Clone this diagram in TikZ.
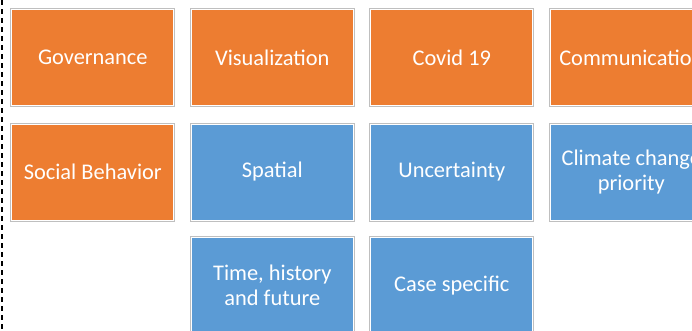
\documentclass[tikz,border=0pt]{standalone}
\usepackage{fontspec}
\setmainfont{Carlito}
\usepackage{tikz}
\usepackage{xcolor}
\definecolor{themeorange}{HTML}{ED7D31}
\definecolor{themeblue}{HTML}{5B9BD5}
\definecolor{edgegray}{HTML}{BFBFBF}

\begin{document}
\begin{tikzpicture}[x=1pt, y=-1pt,
		tile/.style = {rectangle, minimum width=162pt, minimum height=96pt, inner sep=0pt,
			draw=white, line width=1pt, preaction={draw=edgegray, line width=3pt},
			text=white, align=center, font=\fontsize{22.4}{25}\selectfont},
		orangetile/.style = {tile, fill=themeorange},
		bluetile/.style = {tile, fill=themeblue}]
		\useasboundingbox (0,0) rectangle (692,330);
		\clip (0,0) rectangle (692,330);
		\fill[white] (0,0) rectangle (692,330);
		% first row
		\node[orangetile] (gov) at (92.8, 57.5) {Governance};
		\node[orangetile] (vis) at (272.3, 57.5) {Visualization};
		\node[orangetile] (cov) at (451.8, 57.5) {Covid 19};
		\node[orangetile] (com) at (631.3, 57.5) {Communication};
		% second row
		\node[orangetile] (soc) at (92.8, 172) {Social Behavior};
		\node[bluetile] (spa) at (272.3, 172) {Spatial};
		\node[bluetile] (unc) at (451.8, 172) {Uncertainty};
		\node[bluetile] (cli) at (631.3, 172) {Climate change\\priority};
		% third row
		\node[bluetile] (tim) at (272.3, 285.5) {Time, history\\and future};
		\node[bluetile] (cas) at (451.8, 285.5) {Case specific};
		% dashed frame edge
		\draw[black, line width=2pt, dash pattern=on 5pt off 4pt] (2,0) -- (2,330);
	\end{tikzpicture}
\end{document}
